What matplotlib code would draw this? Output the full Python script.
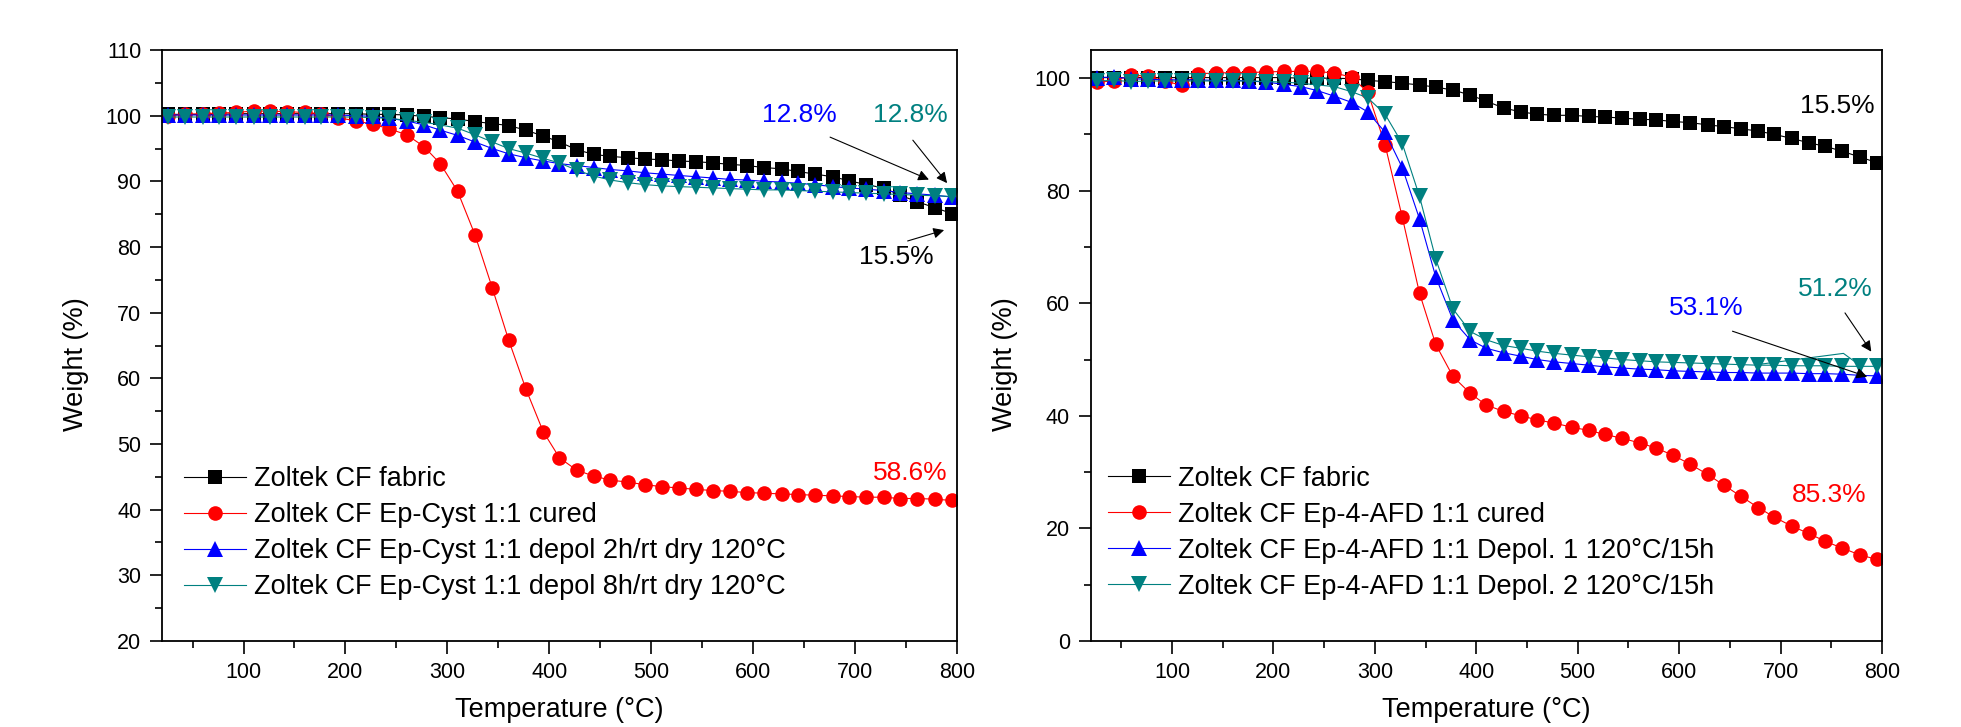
import matplotlib
matplotlib.use('Agg')
import matplotlib.pyplot as plt
from matplotlib.ticker import MultipleLocator

plt.rcParams['font.family'] = ['Liberation Sans', 'DejaVu Sans']

# temperatures of the data points (deg C)
temp = [26, 43, 60, 76, 93, 110, 126, 143, 160, 176, 193, 210, 227, 243, 260, 277,
        293, 310, 327, 344, 360, 377, 394, 410, 427, 444, 460, 477, 494, 511, 527,
        544, 561, 577, 594, 611, 628, 644, 661, 678, 694, 711, 728, 744, 761, 778, 795]

# left panel: Ep-Cyst
cyst_fabric = [100.2, 100.2, 100.2, 100.2, 100.3, 100.3, 100.3, 100.3, 100.3, 100.3,
               100.3, 100.3, 100.2, 100.2, 100.1, 99.9, 99.7, 99.5, 99.1, 98.8, 98.5,
               97.8, 96.9, 96.0, 94.8, 94.1, 93.8, 93.6, 93.4, 93.3, 93.1, 93.0, 92.8,
               92.6, 92.4, 92.1, 91.9, 91.5, 91.1, 90.7, 90.1, 89.5, 89.0, 87.9, 86.9,
               86.0, 85.1]
cyst_cured = [100.0, 100.2, 100.3, 100.4, 100.5, 100.7, 100.7, 100.6, 100.5, 100.3,
              99.7, 99.2, 98.7, 98.0, 97.1, 95.3, 92.7, 88.5, 81.9, 73.8, 65.9, 58.4,
              51.9, 47.9, 46.0, 45.1, 44.5, 44.2, 43.8, 43.5, 43.3, 43.1, 42.9, 42.8,
              42.6, 42.5, 42.4, 42.3, 42.2, 42.1, 42.0, 41.9, 41.9, 41.7, 41.7, 41.6,
              41.4]
cyst_depol2h = [100.1, 100.1, 100.1, 100.1, 100.1, 100.1, 100.1, 100.1, 100.1, 100.1,
                100.1, 100.0, 99.9, 99.6, 99.2, 98.6, 97.8, 97.0, 96.0, 95.0, 94.2,
                93.6, 93.1, 92.7, 92.4, 92.1, 91.8, 91.6, 91.3, 91.1, 90.9, 90.7, 90.5,
                90.3, 90.2, 90.0, 89.9, 89.7, 89.5, 89.2, 89.0, 88.8, 88.6, 88.3, 88.1,
                87.9, 87.6]
cyst_depol8h = [99.8, 99.8, 99.8, 99.8, 99.8, 99.8, 99.8, 99.8, 99.8, 99.8, 99.8, 99.8,
                99.7, 99.6, 99.3, 99.0, 98.6, 98.1, 97.1, 96.0, 95.0, 94.3, 93.5, 92.8,
                91.7, 90.8, 90.2, 89.8, 89.5, 89.3, 89.2, 89.1, 89.0, 88.9, 88.8, 88.7,
                88.7, 88.6, 88.5, 88.4, 88.3, 88.2, 88.1, 88.0, 87.9, 87.8, 87.7]

# right panel: Ep-4-AFD
afd_fabric = [100.1, 100.1, 100.1, 100.1, 100.1, 100.1, 100.1, 100.1, 100.1, 100.1,
              100.1, 100.1, 100.0, 100.0, 100.0, 99.9, 99.6, 99.4, 99.1, 98.8, 98.4,
              97.9, 97.0, 95.9, 94.7, 94.0, 93.6, 93.4, 93.4, 93.2, 93.1, 92.9, 92.7,
              92.6, 92.3, 92.1, 91.7, 91.4, 91.0, 90.6, 90.0, 89.3, 88.5, 87.9, 87.0,
              86.0, 85.0]
afd_cured = [99.3, 99.5, 100.6, 100.3, 99.5, 98.7, 100.8, 100.9, 101.0, 101.0, 101.1,
             101.2, 101.2, 101.2, 100.9, 100.2, 97.5, 88.2, 75.3, 61.8, 52.7, 47.0, 44.0,
             41.9, 40.8, 40.0, 39.3, 38.7, 38.0, 37.4, 36.7, 36.0, 35.2, 34.3, 33.0,
             31.4, 29.6, 27.7, 25.7, 23.7, 22.0, 20.4, 19.1, 17.7, 16.5, 15.3, 14.5]
afd_depol1 = [100.1, 100.2, 99.9, 99.8, 99.7, 99.7, 99.7, 99.6, 99.6, 99.5, 99.3, 98.9,
              98.5, 97.8, 96.8, 95.7, 94.0, 90.4, 84.1, 75.0, 64.7, 57.0, 53.5, 52.0,
              51.2, 50.6, 50.0, 49.6, 49.3, 49.0, 48.7, 48.5, 48.3, 48.2, 48.0, 47.9,
              47.8, 47.7, 47.7, 47.6, 47.6, 47.6, 47.5, 47.5, 47.4, 47.2, 47.1]
afd_depol2 = [99.5, 99.6, 99.4, 99.5, 99.5, 99.5, 99.5, 99.5, 99.5, 99.5, 99.4, 99.3,
              99.1, 98.8, 98.5, 97.6, 96.5, 93.6, 88.4, 79.0, 67.9, 59.0, 55.0, 53.5,
              52.5, 52.0, 51.5, 51.1, 50.8, 50.5, 50.3, 50.0, 49.8, 49.6, 49.5, 49.4,
              49.3, 49.2, 49.1, 49.0, 49.0, 48.9, 48.9, 48.9, 48.8, 48.8, 48.8]
# raw teal trace bump near the end (line only)
afd_depol2_bump_t = [681, 762, 778]
afd_depol2_bump_w = [49.2, 51.1, 49.0]

cyst_labels = ['Zoltek CF fabric', 'Zoltek CF Ep-Cyst 1:1 cured',
               'Zoltek CF Ep-Cyst 1:1 depol 2h/rt dry 120°C',
               'Zoltek CF Ep-Cyst 1:1 depol 8h/rt dry 120°C']
afd_labels = ['Zoltek CF fabric', 'Zoltek CF Ep-4-AFD 1:1 cured',
              'Zoltek CF Ep-4-AFD 1:1 Depol. 1 120°C/15h',
              'Zoltek CF Ep-4-AFD 1:1 Depol. 2 120°C/15h']

black = '#000000'
red = '#ff0000'
blue = '#0000ff'
teal = '#008080'

styles = [(black, 's', 9.5), (red, 'o', 10.5), (blue, '^', 11.5), (teal, 'v', 11.5)]

fig = plt.figure(figsize=(19.61, 7.27), dpi=100)
ax1 = fig.add_axes([0.0826, 0.1183, 0.4054, 0.8129])
ax2 = fig.add_axes([0.5563, 0.1183, 0.4034, 0.8129])


def draw(ax, series, labels):
    for ys, lab, (c, m, ms) in zip(series, labels, styles):
        ax.plot(temp, ys, color=c, marker=m, markersize=ms, lw=0.8,
                markeredgewidth=0, label=lab)


def style(ax):
    ax.set_xlim(20, 800)
    ax.xaxis.set_major_locator(MultipleLocator(100))
    ax.xaxis.set_minor_locator(MultipleLocator(50))
    ax.tick_params(which='major', direction='out', length=9, width=1.2,
                   labelsize=15.5, top=False, right=False, pad=6)
    ax.tick_params(which='minor', direction='out', length=5, width=1.2,
                   top=False, right=False)
    for sp in ax.spines.values():
        sp.set_linewidth(1.3)
    ax.set_xlabel('Temperature (°C)', fontsize=19.5)
    ax.set_ylabel('Weight (%)', fontsize=19.5)
    ax.xaxis.set_label_coords(0.5, -0.095)
    ax.yaxis.set_label_coords(-0.092, 0.469)


draw(ax1, [cyst_fabric, cyst_cured, cyst_depol2h, cyst_depol8h], cyst_labels)
style(ax1)
ax1.set_ylim(20, 110)
ax1.yaxis.set_major_locator(MultipleLocator(10))
ax1.yaxis.set_minor_locator(MultipleLocator(5))
ax1.legend(loc='center left', bbox_to_anchor=(0.0277, 0.182), frameon=False,
           fontsize=19.5, handlelength=2.3, handletextpad=0.3, labelspacing=0.37,
           borderpad=0, borderaxespad=0)

arrow = dict(arrowstyle='-|>', color='black', lw=0.8, mutation_scale=16)
ax1.annotate('', xy=(775, 90.1), xytext=(673, 96.9), arrowprops=arrow)
ax1.annotate('', xy=(792, 89.4), xytext=(755, 96.6), arrowprops=arrow)
ax1.annotate('', xy=(790, 82.7), xytext=(749, 80.8), arrowprops=arrow)
ax1.text(645, 100.1, '12.8%', color=blue, fontsize=19, ha='center', va='center')
ax1.text(754, 100.1, '12.8%', color=teal, fontsize=19, ha='center', va='center')
ax1.text(740, 78.5, '15.5%', color=black, fontsize=19, ha='center', va='center')
ax1.text(754, 45.6, '58.6%', color=red, fontsize=19, ha='center', va='center')

draw(ax2, [afd_fabric, afd_cured, afd_depol1, afd_depol2], afd_labels)
ax2.plot(afd_depol2_bump_t, afd_depol2_bump_w, color=teal, lw=0.8)
style(ax2)
ax2.set_ylim(0, 105)
ax2.yaxis.set_major_locator(MultipleLocator(20))
ax2.yaxis.set_minor_locator(MultipleLocator(10))
ax2.legend(loc='center left', bbox_to_anchor=(0.0215, 0.183), frameon=False,
           fontsize=19.5, handlelength=2.3, handletextpad=0.3, labelspacing=0.37,
           borderpad=0, borderaxespad=0)

ax2.annotate('', xy=(788, 46.8), xytext=(650, 55.2), arrowprops=arrow)
ax2.annotate('', xy=(791, 51.0), xytext=(762, 58.7), arrowprops=arrow)
ax2.text(756, 95.0, '15.5%', color=black, fontsize=19, ha='center', va='center')
ax2.text(754, 62.5, '51.2%', color=teal, fontsize=19, ha='center', va='center')
ax2.text(627, 59.1, '53.1%', color=blue, fontsize=19, ha='center', va='center')
ax2.text(748, 25.9, '85.3%', color=red, fontsize=19, ha='center', va='center')

fig.savefig('out.png', dpi=100)
